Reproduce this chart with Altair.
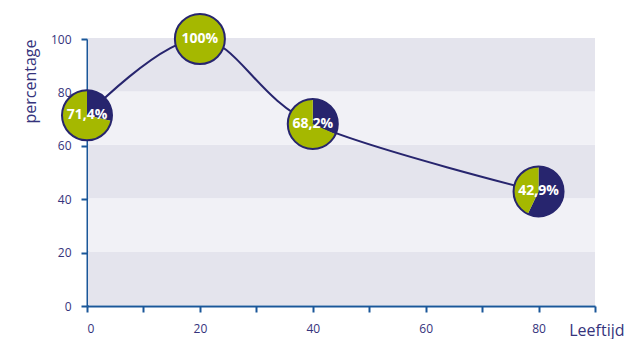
import altair as alt
import pandas as pd

# ---- data ----
ages = [0, 20, 40, 80]
percentages = [71.4, 100, 68.2, 42.9]
labels = ["71,4%", "100%", "68,2%", "42,9%"]
x_ticks = [0, 10, 20, 30, 40, 50, 60, 70, 80, 90]
x_labels = [0, 20, 40, 60, 80]
y_ticks = [0, 20, 40, 60, 80, 100]
band_edges = [0, 20, 40, 60, 80, 100]
x_domain = [0, 90]
y_domain = [0, 100]

NAVY = "#27256e"
GREEN = "#a5b800"
AXIS = "#1a5799"
TEXT = "#35337c"
BAND_DARK = "#e4e4ed"
BAND_LIGHT = "#f1f1f6"
FONT = "Open Sans"
R = 25

pts = pd.DataFrame({"age": ages, "pct": percentages, "label": labels})

slice_rows = []
for a, p in zip(ages, percentages):
    rest = (100 - p) / 100.0
    slice_rows.append({"age": a, "pct": p, "part": "rest", "t0": 0.0, "t1": rest})
    slice_rows.append({"age": a, "pct": p, "part": "share", "t0": rest, "t1": 1.0})
slices = pd.DataFrame(slice_rows)

bands = pd.DataFrame({"lo": band_edges[:-1], "hi": band_edges[1:]})

xscale = alt.Scale(domain=x_domain, nice=False, zero=False)
yscale = alt.Scale(domain=y_domain, nice=False)

x_axis = alt.Axis(
    values=x_ticks,
    labelExpr=f"indexof({x_labels}, datum.value) >= 0 ? datum.label : ''",
    title="Leeftijd",
    titleX=537, titleY=24, titleAlign="right", titleBaseline="middle", titleAngle=0,
    labelPadding=11,
)
y_axis = alt.Axis(
    values=y_ticks,
    title="percentage",
    titleAngle=270, titleX=-57, titleY=0, titleAlign="right", titleBaseline="middle",
    labelPadding=10,
)

def X(field):
    return alt.X(field, scale=xscale, axis=x_axis)

def Y(field):
    return alt.Y(field, scale=yscale, axis=y_axis)

# bands slightly inset (1px) so the axis lines are not half covered
band_layer = alt.Chart(bands).transform_calculate(
    shade="floor(datum.lo / 20) % 2 == 0 ? 'dark' : 'light'"
).mark_rect(xOffset=1, yOffset=-1, y2Offset=-1).encode(
    x=alt.X(datum=x_domain[0], type="quantitative", scale=xscale, axis=x_axis),
    x2=alt.X2(datum=x_domain[1]),
    y=Y("lo:Q"),
    y2="hi:Q",
    fill=alt.Fill("shade:N", scale=alt.Scale(domain=["dark", "light"], range=[BAND_DARK, BAND_LIGHT]), legend=None),
)

line_layer = alt.Chart(pts).mark_line(interpolate="cardinal", color=NAVY, strokeWidth=2).encode(
    x=X("age:Q"),
    y=Y("pct:Q"),
)

arc_layer = alt.Chart(slices).mark_arc(outerRadius=R, innerRadius=0).encode(
    x=X("age:Q"),
    y=Y("pct:Q"),
    theta=alt.Theta("t0:Q", scale=alt.Scale(domain=[0, 1], range=[0, 6.283185307])),
    theta2="t1:Q",
    color=alt.Color("part:N", scale=alt.Scale(domain=["rest", "share"], range=[NAVY, GREEN]), legend=None),
)

ring_layer = alt.Chart(pts).mark_point(
    shape="circle", size=(2 * R) ** 2, filled=False, fill=None, stroke=NAVY,
    strokeWidth=2, opacity=1, strokeOpacity=1
).encode(
    x=X("age:Q"),
    y=Y("pct:Q"),
)

text_layer = alt.Chart(pts).mark_text(
    font=FONT, fontWeight="bold", fontSize=14, color="white", align="center", baseline="middle"
).encode(
    x=X("age:Q"),
    y=Y("pct:Q"),
    text="label:N",
)

chart = alt.layer(band_layer, line_layer, arc_layer, ring_layer, text_layer).resolve_scale(
    color="independent", fill="independent"
).properties(
    width=508, height=267,
    autosize=alt.AutoSizeParams(type="none"),
    padding={"left": 87, "top": 39, "right": 31, "bottom": 33},
    background="white",
).configure_view(strokeWidth=0).configure_axis(
    grid=False,
    domainColor=AXIS, domainWidth=2,
    tickColor=AXIS, tickWidth=2, tickSize=6,
    labelColor=TEXT, labelFont=FONT, labelFontSize=12,
    titleColor=TEXT, titleFont=FONT, titleFontSize=16, titleFontWeight="normal",
)

chart.save("out.html", embed_options={"renderer": "svg", "actions": False})
